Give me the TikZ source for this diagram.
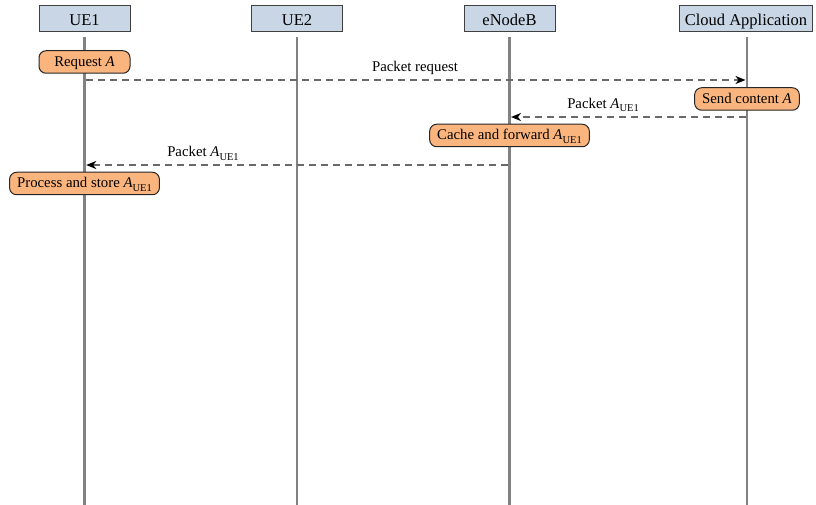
\documentclass[tikz,border=0pt]{standalone}
\usepackage{fontspec}
\setmainfont{Liberation Serif}
\usetikzlibrary{arrows.meta}
\definecolor{hdrfill}{RGB}{200,214,229}
\definecolor{actfill}{RGB}{250,180,125}
\definecolor{lifegray}{RGB}{130,130,130}
\definecolor{msggray}{RGB}{105,105,105}
\newcommand{\Aue}{\textit{A}\raisebox{-0.22em}{\fontsize{10.5}{12}\selectfont UE1}}
\tikzset{
  hdr/.style={draw=black!75, fill=hdrfill, line width=1pt, minimum width=91pt, minimum height=26pt, inner xsep=5.5pt, text height=14pt, text depth=0pt, font=\fontsize{16.5}{19}\selectfont},
  act/.style={draw=black!85, fill=actfill, line width=1pt, rounded corners=7pt, minimum width=91pt, minimum height=22.5pt, inner xsep=7.5pt, inner ysep=2pt, text height=11.5pt, text depth=3pt, font=\fontsize{14.8}{17}\selectfont},
  life/.style={draw=lifegray, line width=2.8pt},
  msg/.style={draw=msggray, line width=1.7pt, dash pattern=on 7pt off 5pt, -{Stealth[length=10pt,width=8pt,inset=3pt,color=black]}},
  lbl/.style={font=\fontsize{14.8}{17}\selectfont, inner sep=0pt}
}
\begin{document}
\begin{tikzpicture}[x=1pt,y=-1pt]
\useasboundingbox (0,0) rectangle (816,505);
% headers
\node[hdr] (ue1) at (84.5,19) {UE1};
\node[hdr] (ue2) at (297,19) {UE2};
\node[hdr] (enb) at (509.5,19) {eNodeB};
\node[hdr] (cloud) at (746,19) {Cloud Application};
% lifeline ends
\coordinate (ue1t) at (84.7,37);  \coordinate (ue1b) at (84.7,505);
\coordinate (ue2t) at (297,37);   \coordinate (ue2b) at (297,505);
\coordinate (enbt) at (509.5,37); \coordinate (enbb) at (509.5,505);
\coordinate (clt) at (747,37);    \coordinate (clb) at (747,505);
\draw[life] (ue1t) -- (ue1b);
\draw[life] (ue2t) -- (ue2b);
\draw[life] (enbt) -- (enbb);
\draw[life] (clt) -- (clb);
% activities
\node[act] (req) at (84.5,62) {Request \textit{A}};
\node[act] (send) at (747,99) {Send content \textit{A}};
\node[act] (cache) at (509.5,135.5) {Cache and forward \Aue};
\node[act] (proc) at (84.5,183.5) {Process and store \Aue};
% message points
\coordinate (m1s) at (86.2,80);  \coordinate (m1e) at (745.5,80);
\coordinate (m2s) at (745.5,117);  \coordinate (m2e) at (511,117);
\coordinate (m3s) at (508,165); \coordinate (m3e) at (86.2,165);
\draw[msg] (m1s) -- (m1e);
\draw[msg] (m2s) -- (m2e);
\draw[msg] (m3s) -- (m3e);
% labels
\node[lbl] (l1) at (415,68) {Packet request};
\node[lbl] (l2) at (603,105) {Packet \Aue};
\node[lbl] (l3) at (203,153.5) {Packet \Aue};
\end{tikzpicture}
\end{document}
